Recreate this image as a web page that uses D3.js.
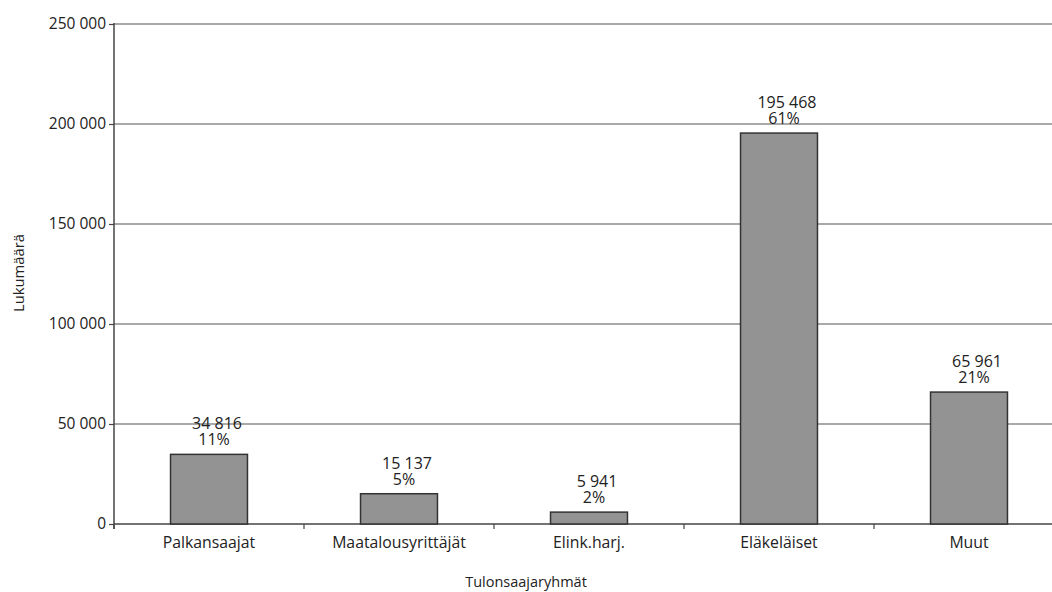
<!DOCTYPE html>
<html><head><meta charset="utf-8">
<script src="https://cdn.jsdelivr.net/npm/d3@7"></script>
<style>body{margin:0;background:#fff}svg{display:block}text{font-family:"Open Sans",sans-serif;fill:#222}</style>
</head><body><svg id="c" width="1052" height="592"></svg>
<script>
const categories = ["Palkansaajat","Maatalousyrittäjät","Elink.harj.","Eläkeläiset","Muut"];
const values = [34816, 15137, 5941, 195468, 65961];
const percents = ["11%","5%","2%","61%","21%"];
const yTicks = [0,50000,100000,150000,200000,250000];

(function(){
const svg = d3.select("#c");
const L = 114, T = 24, B = 524, bandW = 190;
const x = d3.scaleBand().domain(categories).range([L, L + bandW*categories.length]).padding(0);
const barW = x.bandwidth()*0.405;
const cx = c => x(c) + x.bandwidth()/2;
const y = d3.scaleLinear().domain([0,250000]).range([B, T]);
const fmt = v => d3.format(",")(v).replace(/,/g, " ");

svg.append("g").selectAll("line").data(yTicks.slice(1)).join("line")
  .attr("x1", L).attr("x2", 1052).attr("y1", d=>y(d)).attr("y2", d=>y(d))
  .attr("stroke","#555").attr("stroke-width",1.2);

const ya = svg.append("g").attr("transform",`translate(${L},0)`)
  .call(d3.axisLeft(y).tickValues(yTicks).tickSize(5).tickPadding(3).tickFormat(fmt));
ya.select(".domain").remove();
ya.attr("font-family",null).attr("font-size",null);
ya.selectAll("line").attr("stroke","#444").attr("stroke-width",1.2);
ya.selectAll("text").style("font-size","15.5px").attr("fill","#222");
svg.append("line").attr("x1",L).attr("x2",L).attr("y1",T-1).attr("y2",B+5).attr("stroke","#444").attr("stroke-width",1.5);

svg.append("line").attr("x1",L).attr("x2",1052).attr("y1",B).attr("y2",B).attr("stroke","#444").attr("stroke-width",1.5);
svg.append("g").selectAll("line").data(categories).join("line")
  .attr("x1",d=>x(d)).attr("x2",d=>x(d)).attr("y1",B).attr("y2",B+5).attr("stroke","#444").attr("stroke-width",1.2);
svg.append("g").selectAll("text").data(categories).join("text")
  .attr("x", d=>cx(d)).attr("y", 548).attr("text-anchor","middle")
  .style("font-size","15.8px").text(d=>d);

svg.append("g").selectAll("rect").data(values).join("rect")
  .attr("x",(d,i)=>cx(categories[i])-barW/2).attr("width",barW)
  .attr("y",d=>y(d)).attr("height",d=>B-y(d))
  .attr("fill","#939393").attr("stroke","#333").attr("stroke-width",1.5);

const lab = svg.append("g").selectAll("text").data(values).join("text")
  .attr("text-anchor","middle").style("font-size","16px");
lab.append("tspan").attr("x",(d,i)=>cx(categories[i])+8).attr("y",d=>y(d)-25).text(d=>fmt(d));
lab.append("tspan").attr("x",(d,i)=>cx(categories[i])+5).attr("y",d=>y(d)-9).text((d,i)=>percents[i]);

svg.append("text").attr("transform","translate(24,273) rotate(-90)").attr("text-anchor","middle")
  .style("font-size","14.8px").text("Lukumäärä");
svg.append("text").attr("x",526).attr("y",587).attr("text-anchor","middle")
  .style("font-size","14.5px").text("Tulonsaajaryhmät");
})();
</script></body></html>
